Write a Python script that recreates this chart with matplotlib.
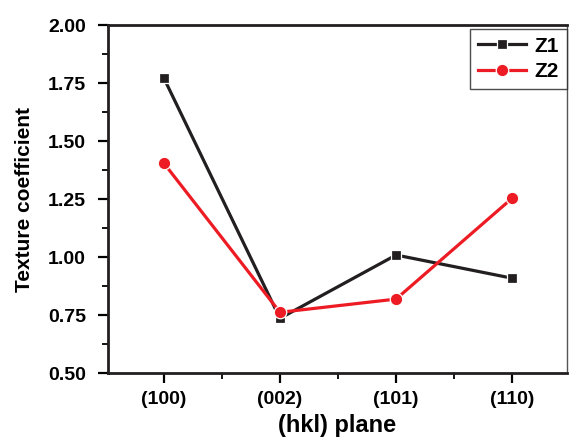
import matplotlib

matplotlib.use("Agg")
import matplotlib.pyplot as plt
from matplotlib.ticker import FixedLocator, FormatStrFormatter, MultipleLocator

planes = ["(100)", "(002)", "(101)", "(110)"]
z1 = [1.772, 0.736, 1.009, 0.909]
z2 = [1.405, 0.762, 0.819, 1.254]

plt.rcParams["font.family"] = ["Liberation Sans", "DejaVu Sans"]
plt.rcParams["font.weight"] = "bold"

fig = plt.figure(figsize=(5.69, 4.41), dpi=100)
ax = fig.add_axes([0.19, 0.154, 0.806, 0.789])

x = list(range(len(planes)))
ax.plot(x, z1, color="#231f20", lw=2.3, marker="s", ms=7.8, mec="white", mew=0.9, label="Z1", zorder=3)
ax.plot(x, z2, color="#ed1c24", lw=2.3, marker="o", ms=9, mec="white", mew=0.9, label="Z2", zorder=4)

ax.set_xlim(-0.48, 3.47)
ax.set_ylim(0.5, 2.0)
ax.set_xticks(x)
ax.set_xticklabels(planes)
ax.xaxis.set_minor_locator(FixedLocator([-0.5, 0.5, 1.5, 2.5]))
ax.yaxis.set_major_locator(MultipleLocator(0.25))
ax.yaxis.set_minor_locator(MultipleLocator(0.125))
ax.yaxis.set_major_formatter(FormatStrFormatter("%.2f"))

ax.tick_params(axis="both", which="major", direction="out", length=7, width=1.6, labelsize=14)
ax.tick_params(axis="both", which="minor", direction="out", length=4, width=1.3)
ax.tick_params(axis="x", which="major", pad=6)
ax.tick_params(axis="y", which="major", pad=9)
for lab in ax.get_xticklabels() + ax.get_yticklabels():
    lab.set_fontweight("bold")

for side in ("left", "bottom", "top"):
    ax.spines[side].set_linewidth(2.0)
    ax.spines[side].set_color("#231f20")
ax.spines["right"].set_linewidth(1.0)
ax.spines["right"].set_color("#555555")

ax.set_xlabel("(hkl) plane", fontsize=17, fontweight="bold", labelpad=4)
ax.set_ylabel("Texture coefficient", fontsize=15, fontweight="bold", labelpad=10)

leg = ax.legend(loc="upper right", bbox_to_anchor=(1.0, 0.99), fontsize=15, frameon=True,
                fancybox=False, edgecolor="#231f20", borderaxespad=0.0, handlelength=2.3,
                borderpad=0.38, labelspacing=0.32, handletextpad=0.4)
leg.get_frame().set_linewidth(1.0)
for t in leg.get_texts():
    t.set_fontweight("bold")

fig.savefig("out.png", dpi=100)
